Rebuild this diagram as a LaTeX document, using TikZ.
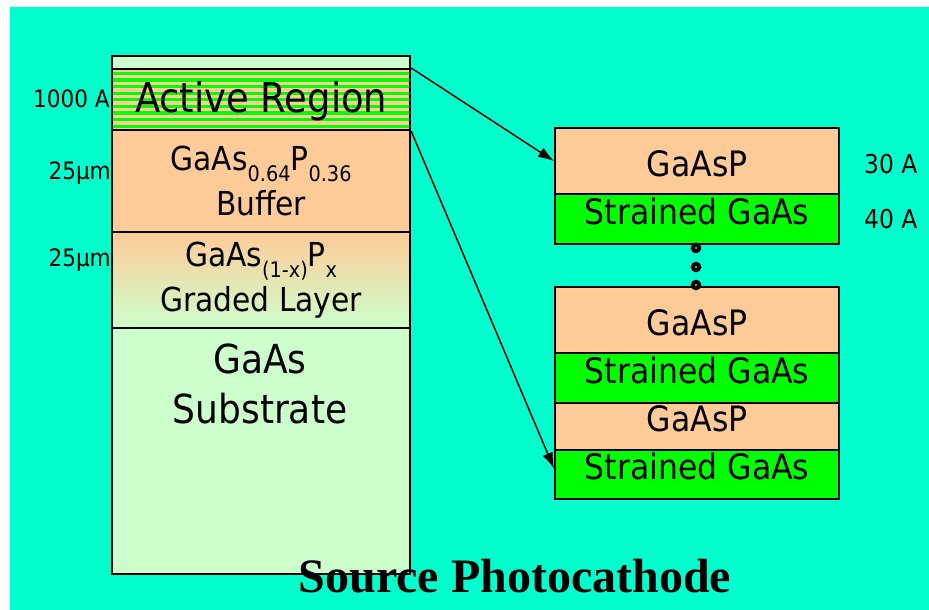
\documentclass[tikz,border=0pt]{standalone}
\usepackage{fontspec}
\usepackage{graphicx}
\setmainfont{DejaVu Sans}[FakeStretch=0.9]
\newfontfamily\titlefont{Liberation Serif}
\usetikzlibrary{arrows.meta}

\definecolor{bgcyan}{RGB}{0,255,204}
\definecolor{peach}{RGB}{255,204,153}
\definecolor{palegreen}{RGB}{204,255,204}
\definecolor{brightgreen}{RGB}{0,255,0}

% lowered, smaller subscript in the running font
\newcommand{\lowsub}[1]{\raisebox{-0.33em}{\scalebox{0.65}{#1}}}

\tikzset{
  layer/.style={draw=black, line width=2.2pt, anchor=north west, inner sep=0pt,
    align=center, minimum width=298pt, text=black},
  rlayer/.style={draw=black, line width=2.2pt, anchor=north west, inner sep=0pt,
    minimum width=284pt, text=black, font=\fontsize{35}{40}\selectfont},
  pbox/.style={rlayer, fill=peach},
  sbox/.style={rlayer, fill=brightgreen, text height=10pt, text depth=0pt},
  dotring/.style={circle, draw=black, fill=bgcyan, line width=4pt,
    minimum size=6.5pt, inner sep=0pt},
  pointer/.style={draw=black, line width=1.5pt, -{Latex[length=16pt,width=11pt]}},
  sidelabel/.style={inner sep=0pt, text=black, font=\fontsize{24}{28}\selectfont},
}

\begin{document}
\begin{tikzpicture}[x=1pt,y=-1pt]
\useasboundingbox (0,0) rectangle (929,610);
\fill[white] (0,0) rectangle (929,610);
\fill[bgcyan] (10,7) rectangle (929,610);

% left layer stack
\node[layer, fill=palegreen, minimum height=13pt] (cap) at (111,55) {};
\node[layer, fill=peach, minimum height=61pt, text height=25pt, text depth=0pt,
  font=\fontsize{41}{46}\selectfont,
  path picture={
    \foreach \k in {0,...,8}
      \fill[brightgreen] ([yshift=-(2.6+\k*6.6)*1pt]path picture bounding box.north west)
        rectangle ++(298pt,-3.3pt);
  }] (act) at (111,68) {Active Region};
\node[layer, fill=peach, minimum height=102pt, font=\fontsize{33}{45}\selectfont]
  (buf) at (111,129) {GaAs\lowsub{0.64}P\lowsub{0.36}\\Buffer};
\node[layer, top color=peach, bottom color=palegreen, minimum height=96pt,
  font=\fontsize{33}{45}\selectfont]
  (grad) at (111,231) {GaAs\lowsub{(1-x)}P\lowsub{x}\\Graded Layer};
\node[layer, fill=palegreen, minimum height=246pt] (sub) at (111,327) {};
\node[anchor=north, inner sep=0pt, align=center, font=\fontsize{40}{50}\selectfont]
  (subtext) at (260,344) {GaAs\\Substrate};

% left thickness labels
\node[sidelabel, anchor=base east] (t1000) at (110,107) {1000 A};
\node[sidelabel, anchor=base east] (t25a) at (111,179) {25μm};
\node[sidelabel, anchor=base east] (t25b) at (111,266) {25μm};

% right: enlarged quantum-well stack
\node[pbox, minimum height=66pt, text height=30pt, text depth=0pt] (r1p) at (554,127) {GaAsP};
\node[sbox, minimum height=50pt] (r1s) at (554,193) {Strained GaAs};

\node[pbox, minimum height=66pt, text height=30pt, text depth=0pt] (r2p) at (554,286) {GaAsP};
\node[sbox, minimum height=50pt] (r2s) at (554,352) {Strained GaAs};
\node[pbox, minimum height=47pt, text height=9pt, text depth=0pt] (r3p) at (554,402) {GaAsP};
\node[sbox, minimum height=49pt] (r3s) at (554,449) {Strained GaAs};

% continuation dots
\node[dotring] (d1) at (696,248) {};
\node[dotring] (d2) at (696,267) {};
\node[dotring] (d3) at (696,285) {};

% right thickness labels
\node[sidelabel, anchor=base west, font=\fontsize{26}{30}\selectfont] (t30) at (864,173) {30 A};
\node[sidelabel, anchor=base west, font=\fontsize{26}{30}\selectfont] (t40) at (864,228) {40 A};

% zoom pointers
\draw[pointer] (act.north east) -- (r1p.west);
\draw[pointer] (act.south east) -- ([yshift=6pt]r3s.west);

% title
\node[anchor=base, inner sep=0pt, text=black,
  font=\titlefont\bfseries\fontsize{48}{52}\selectfont] (title) at (515,592) {Source Photocathode};
\end{tikzpicture}
\end{document}
